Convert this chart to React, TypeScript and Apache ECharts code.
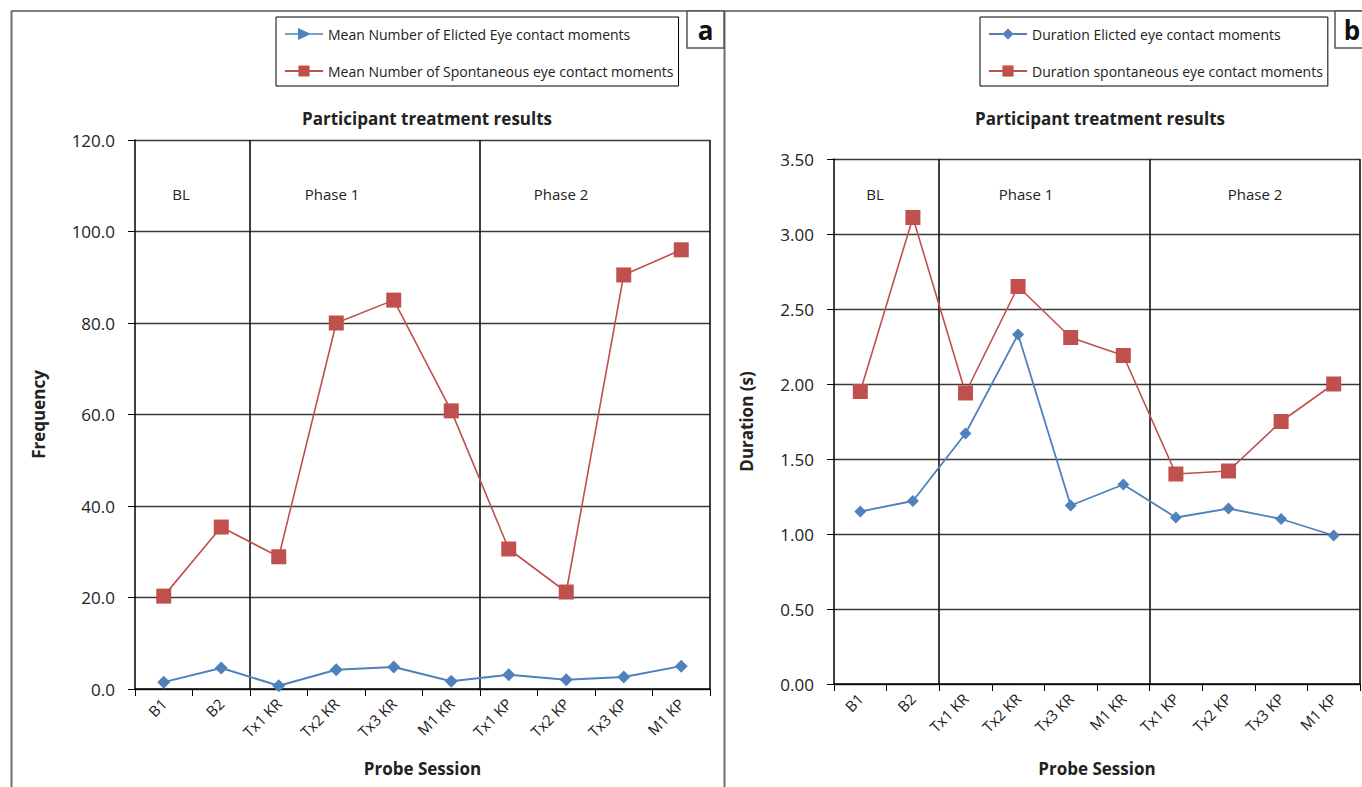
import React, { useEffect, useRef } from "react";
import * as echarts from "echarts";

const categories = ["B1", "B2", "Tx1 KR", "Tx2 KR", "Tx3 KR", "M1 KR", "Tx1 KP", "Tx2 KP", "Tx3 KP", "M1 KP"];

const freqElicited = [1.5, 4.6, 0.7, 4.2, 4.8, 1.7, 3.1, 2.0, 2.6, 5.0];
const freqSpontaneous = [20.3, 35.4, 28.9, 80.0, 85.0, 60.8, 30.6, 21.2, 90.5, 96.0];

const durElicited = [1.15, 1.22, 1.67, 2.33, 1.19, 1.33, 1.11, 1.17, 1.10, 0.99];
const durSpontaneous = [1.95, 3.11, 1.94, 2.65, 2.31, 2.19, 1.40, 1.42, 1.75, 2.00];

const phaseLabels = ["BL", "Phase 1", "Phase 2"];
const phaseBoundaries = [2, 6];

const FONT = "'Open Sans', 'Noto Sans', sans-serif";
const RED = "#C0504D";
const BLUE = "#4F81BD";
const GRID_COLOR = "#3a3a3a";

const legendTri = "path://M0,5.3 L38,5.3 L38,6.7 L0,6.7 Z M13,0 L26,6 L13,12 Z";

export default function App() {
  const ref = useRef<HTMLDivElement>(null);

  useEffect(() => {
    if (!ref.current) return;
    const chart = echarts.init(ref.current, undefined, { renderer: "svg" });

    const xAxisBase = (gridIndex: number, gap: number) => ({
      type: "category",
      gridIndex,
      data: categories,
      boundaryGap: true,
      axisLine: { show: true, lineStyle: { color: "#000", width: 1.5 } },
      axisTick: { show: true, length: 7, lineStyle: { color: "#000", width: 1 } },
      axisLabel: { rotate: 45, margin: 12, fontFamily: FONT, fontSize: 15, color: "#222" },
      splitLine: {
        show: true,
        interval: (i: number) => phaseBoundaries.includes(i),
        lineStyle: { color: "#111", width: 1.6 },
      },
      name: "Probe Session",
      nameLocation: "middle",
      nameGap: gap,
      nameTextStyle: { fontFamily: FONT, fontSize: 17, fontWeight: "bold", color: "#222" },
    });

    const yAxisBase = (gridIndex: number, max: number, interval: number, digits: number, name: string, gap: number) => ({
      type: "value",
      gridIndex,
      min: 0,
      max,
      interval,
      axisLine: { show: true, lineStyle: { color: "#000", width: 1.5 } },
      axisTick: { show: true, length: 7, lineStyle: { color: "#000" } },
      axisLabel: {
        formatter: (v: number) => v.toFixed(digits),
        fontFamily: FONT,
        fontSize: 17,
        color: "#222",
        margin: 20,
      },
      splitLine: { show: true, lineStyle: { color: GRID_COLOR, width: 1.3 } },
      name,
      nameLocation: "middle",
      nameGap: gap,
      nameTextStyle: { fontFamily: FONT, fontSize: 17, fontWeight: "bold", color: "#222" },
    });

    const phaseText = (x: number, text: string) => ({
      type: "text",
      x,
      y: 194,
      style: { text, fontFamily: FONT, fontSize: 15, fill: "#222", align: "center", verticalAlign: "middle" },
    });

    const labelBox = (x: number, w: number, text: string, tx: number) => [
      { type: "rect", shape: { x, y: 11, width: w, height: 37 }, style: { fill: "#fff", stroke: "#555", lineWidth: 1.5 } },
      {
        type: "text",
        x: tx,
        y: 30,
        style: { text, fontFamily: FONT, fontSize: 26, fontWeight: "bold", fill: "#111", align: "center", verticalAlign: "middle" },
      },
    ];

    const legendCommon = {
      orient: "vertical",
      top: 17,
      padding: [10, 5, 8, 8],
      itemGap: 23,
      itemWidth: 38,
      itemHeight: 14,
      backgroundColor: "#fff",
      borderColor: "#000",
      borderWidth: 1,
      textStyle: { fontFamily: FONT, fontSize: 14, color: "#222" },
    };

    chart.setOption({
      animation: false,
      backgroundColor: "#fff",
      title: [
        {
          text: "Participant treatment results",
          left: 422,
          top: 105,
          textAlign: "center",
          textStyle: { fontFamily: FONT, fontSize: 17, fontWeight: "bold", color: "#222" },
        },
        {
          text: "Participant treatment results",
          left: 1095,
          top: 105,
          textAlign: "center",
          textStyle: { fontFamily: FONT, fontSize: 17, fontWeight: "bold", color: "#222" },
        },
      ],
      legend: [
        {
          ...legendCommon,
          left: 276,
          data: [
            { name: "Mean Number of Elicted Eye contact moments", icon: legendTri },
            { name: "Mean Number of Spontaneous eye contact moments" },
          ],
        },
        {
          ...legendCommon,
          left: 980,
          data: [{ name: "Duration Elicted eye contact moments" }, { name: "Duration spontaneous eye contact moments" }],
        },
      ],
      grid: [
        { left: 135, top: 140, width: 575, height: 549 },
        { left: 834, top: 159, width: 526, height: 525 },
      ],
      xAxis: [xAxisBase(0, 71), xAxisBase(1, 76)],
      yAxis: [yAxisBase(0, 120, 20, 1, "Frequency", 88), yAxisBase(1, 3.5, 0.5, 2, "Duration (s)", 79)],
      series: [
        {
          name: "Mean Number of Elicted Eye contact moments",
          type: "line",
          xAxisIndex: 0,
          yAxisIndex: 0,
          data: freqElicited,
          symbol: "diamond",
          symbolSize: 13,
          itemStyle: { color: BLUE },
          lineStyle: { color: BLUE, width: 2 },
          z: 3,
        },
        {
          name: "Mean Number of Spontaneous eye contact moments",
          type: "line",
          xAxisIndex: 0,
          yAxisIndex: 0,
          data: freqSpontaneous,
          symbol: "rect",
          symbolSize: 15,
          itemStyle: { color: RED },
          lineStyle: { color: RED, width: 1.6 },
          z: 4,
        },
        {
          name: "Duration Elicted eye contact moments",
          type: "line",
          xAxisIndex: 1,
          yAxisIndex: 1,
          data: durElicited,
          symbol: "diamond",
          symbolSize: 12,
          itemStyle: { color: BLUE },
          lineStyle: { color: BLUE, width: 1.8 },
          z: 3,
        },
        {
          name: "Duration spontaneous eye contact moments",
          type: "line",
          xAxisIndex: 1,
          yAxisIndex: 1,
          data: durSpontaneous,
          symbol: "rect",
          symbolSize: 15,
          itemStyle: { color: RED },
          lineStyle: { color: RED, width: 1.6 },
          z: 4,
        },
      ],
      graphic: [
        { type: "line", shape: { x1: 11, y1: 11, x2: 1362, y2: 11 }, style: { stroke: "#7f7f7f", lineWidth: 2 } },
        { type: "line", shape: { x1: 11.5, y1: 11, x2: 11.5, y2: 787 }, style: { stroke: "#6f6f6f", lineWidth: 2 } },
        { type: "line", shape: { x1: 724.5, y1: 11, x2: 724.5, y2: 787 }, style: { stroke: "#6f6f6f", lineWidth: 2 } },
        ...labelBox(687, 37, "a", 705.5),
        ...labelBox(1335, 30, "b", 1352),
        phaseText(181, phaseLabels[0]),
        phaseText(332, phaseLabels[1]),
        phaseText(561, phaseLabels[2]),
        phaseText(875, phaseLabels[0]),
        phaseText(1026, phaseLabels[1]),
        phaseText(1255, phaseLabels[2]),
      ],
    });

    return () => chart.dispose();
  }, []);

  return (
    <div
      ref={ref}
      style={{ position: "absolute", left: 0, top: 0, width: 1362, height: 787, background: "#fff" }}
    />
  );
}
